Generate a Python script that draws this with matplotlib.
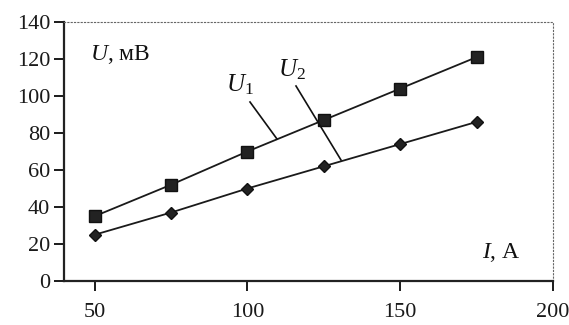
import matplotlib
matplotlib.use("Agg")
import matplotlib.pyplot as plt

I = [50, 75, 100, 125, 150, 175]
U1 = [35, 52, 70, 87, 104, 121]
U2 = [25, 37, 50, 62, 74, 86]
xticks = [50, 100, 150, 200]
yticks = [0, 20, 40, 60, 80, 100, 120, 140]

plt.rcParams['font.family'] = ['Liberation Serif', 'DejaVu Serif']
plt.rcParams['mathtext.fontset'] = 'custom'
plt.rcParams['mathtext.rm'] = 'Liberation Serif'
plt.rcParams['mathtext.it'] = 'Liberation Serif:italic'

W, H = 569, 325
L, R, T, B = 64, 553, 22, 281
fig = plt.figure(figsize=(W/100, H/100), dpi=100)
ax = fig.add_axes([L/W, 1-B/H, (R-L)/W, (B-T)/H])

def dx(px):
    return 40 + (px - L) / (R - L) * 160

def dy(py):
    return (B - py) / (B - T) * 140

ax.plot(I, U1, color='#1a1a1a', lw=1.3, marker='s', ms=8.5, mfc='#222222', mec='#111111')
ax.plot(I, U2, color='#1a1a1a', lw=1.3, marker='D', ms=6.5, mfc='#222222', mec='#111111')

ax.set_xlim(40, 200)
ax.set_ylim(0, 140)
ax.set_xticks(xticks)
ax.set_yticks(yticks)
ax.tick_params(axis='both', direction='out', length=7, width=1.4, labelsize=16, colors='#1a1a1a')
ax.tick_params(axis='x', pad=9)
ax.tick_params(axis='y', pad=3)
for s in ['left', 'bottom']:
    ax.spines[s].set_linewidth(1.6)
    ax.spines[s].set_color('#222222')
for s in ['top', 'right']:
    ax.spines[s].set_linestyle((0, (1, 2)))
    ax.spines[s].set_linewidth(0.8)
    ax.spines[s].set_color('#666666')

ax.text(dx(90), dy(55), r'$U$, мВ', fontsize=17, va='center', ha='left', color='#111111')
ax.text(dx(482), dy(253), r'$I$, А', fontsize=17, va='center', ha='left', color='#111111')

ax.text(dx(240), dy(85), r'$U_1$', fontsize=18, ha='center', va='center', color='#111111')
ax.text(dx(292), dy(70), r'$U_2$', fontsize=18, ha='center', va='center', color='#111111')
ax.plot([dx(250), dx(277)], [dy(102), dy(139)], color='#111111', lw=1.2)
ax.plot([dx(296), dx(341)], [dy(86), dy(160)], color='#111111', lw=1.2)

fig.savefig('out.png', dpi=100)
